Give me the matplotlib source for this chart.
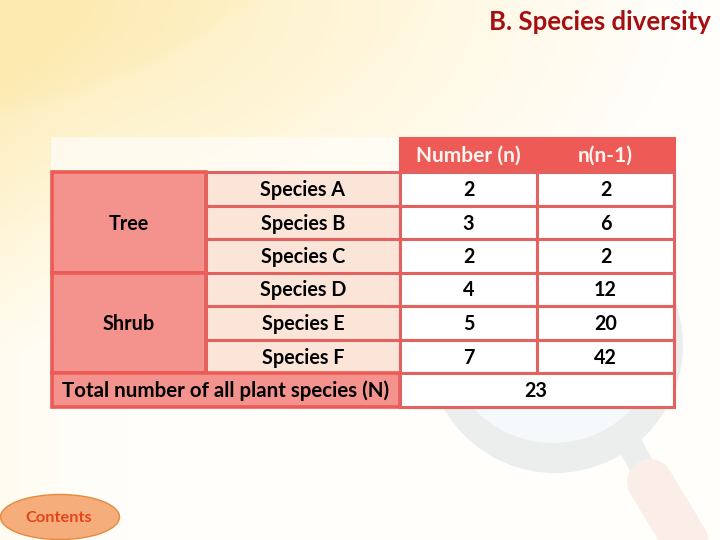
import numpy as np
from matplotlib import pyplot as plt
from matplotlib.patches import Rectangle, Ellipse, Circle
from matplotlib.colors import LinearSegmentedColormap

plt.rcParams['font.family'] = ['Lato', 'DejaVu Sans']

title = 'B. Species diversity'
col_headers = ['Number (n)', 'n(n-1)']
groups = ['Tree', 'Shrub']
group_sizes = [3, 3]
species = ['Species A', 'Species B', 'Species C', 'Species D', 'Species E', 'Species F']
number_n = [2, 3, 2, 4, 5, 7]
n_n_minus_1 = [2, 6, 2, 12, 20, 42]
total_label = 'Total number of all plant species (N)'
total_n = 23
button_label = 'Contents'

col_x = [52, 206, 400, 537, 674]
row_y = [138, 172, 206, 239, 273, 306, 340, 373, 407]

RED = '#ee5a56'
LINE = '#e2625f'
PINK = '#f4938d'
PEACH = '#fbe5d9'


def draw_background(ax):
    # soft yellow wash coming from the top left corner
    yy, xx = np.mgrid[0:540, 0:720]
    d = np.hypot(xx / 680.0, yy / 350.0)
    v = np.clip(1 - d, 0, 1) ** 0.9
    # swooshes, a step lighter outside each arc
    for cx, cy, r, amount in [(-122, -529, 644, 0.14), (-122, -529, 560, 0.10), (-122, -529, 760, 0.10)]:
        dist = np.hypot(xx - cx, yy - cy)
        v = v * (1 - amount * np.clip((dist - r) / 14.0, 0, 1))
    edge = np.clip(1 - xx / 150.0, 0, 1) ** 2 * 0.13
    v = np.clip(v + edge, 0, 1)
    cmap = LinearSegmentedColormap.from_list('wash', ['#fffefb', '#fff5d6', '#fdeab0'])
    ax.imshow(v, cmap=cmap, vmin=0, vmax=0.85, extent=(0, 720, 540, 0), zorder=0, aspect='auto')


def draw_magnifier(ax):
    ax.plot([630, 655], [445, 490], color='#eceeee', lw=18, solid_capstyle='butt', zorder=1)
    ax.add_patch(Circle((555, 345), 128, fc='#eceeee', ec='none', zorder=1))
    ax.add_patch(Circle((553, 335), 108, fc='#f6f9fb', ec='none', zorder=1))
    ax.plot([650, 712], [482, 585], color='#fbeee8', lw=33, solid_capstyle='round', zorder=1)


def cell(ax, x0, x1, y0, y1, fc, lw=2.2, ec=LINE):
    ax.add_patch(Rectangle((x0, y0), x1 - x0, y1 - y0, fc=fc, ec=ec, lw=lw, zorder=3))


def label(ax, x, y, s, color='black', size=14.2, weight='bold'):
    ax.text(x, y + 1, s, color=color, fontsize=size, fontweight=weight, ha='center', va='center', zorder=5)


fig = plt.figure(figsize=(7.2, 5.4), dpi=100)
ax = fig.add_axes([0, 0, 1, 1])
ax.set_xlim(0, 720)
ax.set_ylim(540, 0)
ax.axis('off')

draw_background(ax)
draw_magnifier(ax)

ax.text(711, 22, title, color='#a50f12', fontsize=18.5, fontweight='bold', ha='right', va='center', zorder=5)

# empty top left header cell
ax.add_patch(Rectangle((col_x[0], row_y[0]), col_x[2] - col_x[0], row_y[1] - row_y[0],
                       fc='#ffffff', alpha=0.6, ec='#fffdf6', lw=1.5, zorder=2))

# header
for i, h in enumerate(col_headers):
    cell(ax, col_x[2 + i], col_x[3 + i], row_y[0], row_y[1], RED, ec=RED)
    label(ax, (col_x[2 + i] + col_x[3 + i]) / 2, (row_y[0] + row_y[1]) / 2, h, color='#fff6f2', size=15)

# group cells
start = 1
for g, size in zip(groups, group_sizes):
    cell(ax, col_x[0], col_x[1], row_y[start], row_y[start + size], PINK, ec=RED, lw=2.6)
    label(ax, (col_x[0] + col_x[1]) / 2, (row_y[start] + row_y[start + size]) / 2, g)
    start += size

# species rows
for i, s in enumerate(species):
    y0, y1 = row_y[i + 1], row_y[i + 2]
    ym = (y0 + y1) / 2
    cell(ax, col_x[1], col_x[2], y0, y1, PEACH)
    cell(ax, col_x[2], col_x[3], y0, y1, 'white')
    cell(ax, col_x[3], col_x[4], y0, y1, 'white')
    label(ax, (col_x[1] + col_x[2]) / 2, ym, s)
    label(ax, (col_x[2] + col_x[3]) / 2, ym, str(number_n[i]))
    label(ax, (col_x[3] + col_x[4]) / 2, ym, str(n_n_minus_1[i]))

# total row
cell(ax, col_x[0], col_x[2], row_y[7], row_y[8], PINK, ec=RED, lw=2.6)
cell(ax, col_x[2], col_x[4], row_y[7], row_y[8], 'white')
label(ax, (col_x[0] + col_x[2]) / 2, (row_y[7] + row_y[8]) / 2, total_label, size=14.8)
label(ax, (col_x[2] + col_x[4]) / 2 - 1, (row_y[7] + row_y[8]) / 2, str(total_n))

# button bottom left
ax.add_patch(Ellipse((60, 517), 119, 45, fc='#f6ad7c', ec='#e58a3c', lw=1.0, zorder=5))
ax.text(59, 518, button_label, color='#e2451a', fontsize=11.8, fontweight='bold', ha='center', va='center', zorder=6)

fig.savefig('out.png', dpi=100)
